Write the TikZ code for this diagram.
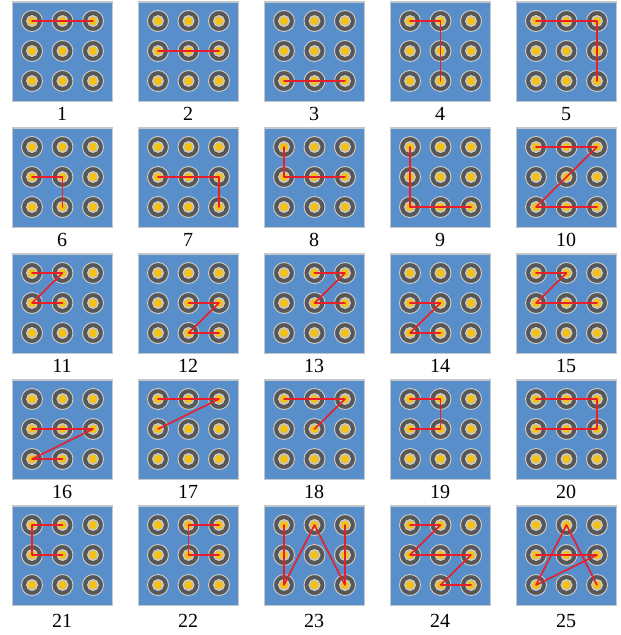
\documentclass[tikz,border=0pt]{standalone}
\usepackage{fontspec}
\setmainfont{Liberation Serif}
\definecolor{panelblue}{RGB}{88,143,203}
\definecolor{paneledge}{RGB}{196,199,202}
\definecolor{ringdark}{RGB}{87,87,87}
\definecolor{ringedge}{RGB}{205,205,205}
\definecolor{yolk}{RGB}{246,193,23}
\definecolor{linkred}{RGB}{232,30,40}
\newcommand\lockpanel[5]{%
\begin{scope}[shift={(#2,#3)}, name prefix=p#1-]
\node[panelbox, anchor=north west] (box) at (0,0) {};
\foreach \rw/\yy in {a/20,b/50,c/80}
  \foreach \cl/\xx in {1/20.5,2/51,3/81.5}
    \node[ring] (\rw\cl) at (\xx,\yy) {};
\node[lab, anchor=base] (lab) at (50.5,#4) {#1};
\draw[link] #5;
\end{scope}}
\begin{document}
\begin{tikzpicture}[x=1pt,y=-1pt,
  panelbox/.style={rectangle, minimum width=100pt, minimum height=99.5pt, inner sep=0pt,
    fill=panelblue, draw=paneledge, line width=1.5pt},
  ring/.style={circle, minimum size=21pt, inner sep=0pt, fill=ringdark, draw=ringedge, line width=0.9pt,
    path picture={
      \fill[yolk] (path picture bounding box.center) circle (4.5);
      \draw[ringedge, line width=1.5pt] (path picture bounding box.center) circle (5.2);}},
  lab/.style={inner sep=0pt, font=\fontsize{20}{20}\selectfont},
  link/.style={draw=linkred, line width=1.6pt, line join=round, line cap=round}]
\useasboundingbox (0,0) rectangle (621,635);
\lockpanel{1}{11.5}{1}{119}{(a1.center) -- (a3.center)}
\lockpanel{2}{137.5}{1}{119}{(b1.center) -- (b3.center)}
\lockpanel{3}{263.5}{1}{119}{(c1.center) -- (c3.center)}
\lockpanel{4}{389.5}{1}{119}{(a1.center) -- (a2.center) -- (c2.center)}
\lockpanel{5}{515.5}{1}{119}{(a1.center) -- (a3.center) -- (c3.center)}
\lockpanel{6}{11.5}{127}{119}{(b1.center) -- (b2.center) -- (c2.center)}
\lockpanel{7}{137.5}{127}{119}{(b1.center) -- (b3.center) -- (c3.center)}
\lockpanel{8}{263.5}{127}{119}{(a1.center) -- (b1.center) -- (b3.center)}
\lockpanel{9}{389.5}{127}{119}{(a1.center) -- (c1.center) -- (c3.center)}
\lockpanel{10}{515.5}{127}{119}{(a1.center) -- (a3.center) -- (c1.center) -- (c3.center)}
\lockpanel{11}{11.5}{253}{119}{(a1.center) -- (a2.center) -- (b1.center) -- (b2.center)}
\lockpanel{12}{137.5}{253}{119}{(b2.center) -- (b3.center) -- (c2.center) -- (c3.center)}
\lockpanel{13}{263.5}{253}{119}{(a2.center) -- (a3.center) -- (b2.center) -- (b3.center)}
\lockpanel{14}{389.5}{253}{119}{(b1.center) -- (b2.center) -- (c1.center) -- (c2.center)}
\lockpanel{15}{515.5}{253}{119}{(a1.center) -- (a2.center) -- (b1.center) -- (b3.center)}
\lockpanel{16}{11.5}{379}{119}{(b1.center) -- (b3.center) -- (c1.center) -- (c2.center)}
\lockpanel{17}{137.5}{379}{119}{(a1.center) -- (a3.center) -- (b1.center)}
\lockpanel{18}{263.5}{379}{119}{(a1.center) -- (a3.center) -- (b2.center)}
\lockpanel{19}{389.5}{379}{119}{(a1.center) -- (a2.center) -- (b2.center) -- (b1.center)}
\lockpanel{20}{515.5}{379}{119}{(a1.center) -- (a3.center) -- (b3.center) -- (b1.center)}
\lockpanel{21}{11.5}{505}{122}{(a2.center) -- (a1.center) -- (b1.center) -- (b2.center)}
\lockpanel{22}{137.5}{505}{122}{(a3.center) -- (a2.center) -- (b2.center) -- (b3.center)}
\lockpanel{23}{263.5}{505}{122}{(a1.center) -- (c1.center) -- (a2.center) -- (c3.center) -- (a3.center)}
\lockpanel{24}{389.5}{505}{122}{(a1.center) -- (a2.center) -- (b1.center) -- (b3.center) -- (c2.center) -- (c3.center)}
\lockpanel{25}{515.5}{505}{122}{(b1.center) -- (b3.center) -- (c1.center) -- (a2.center) -- (c3.center)}
\end{tikzpicture}
\end{document}
